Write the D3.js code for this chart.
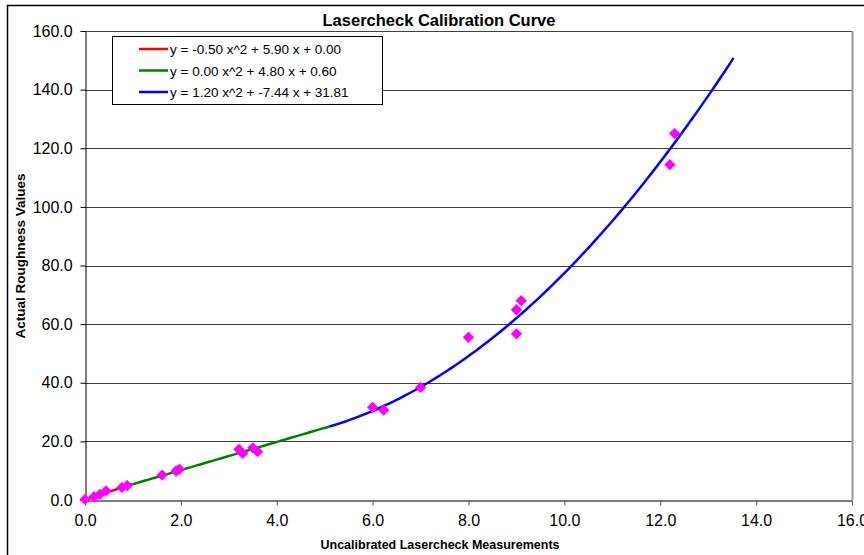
<!DOCTYPE html>
<html>
<head>
<meta charset="utf-8">
<script src="https://cdn.jsdelivr.net/npm/d3@7"></script>
<style>
  body { margin: 0; background: #fff; }
  text { font-family: "Liberation Sans", Arial, sans-serif; }
</style>
</head>
<body>
<script>
var width = 864, height = 555;
var margin = {top: 31, right: 12, bottom: 55, left: 85};

// measured points (x = uncalibrated, y = actual)
var measX = [0.0, 0.19, 0.31, 0.44, 0.77, 0.88, 1.61, 1.90, 1.97, 3.21, 3.29, 3.50, 3.60, 6.00, 6.23, 7.00, 8.00, 9.00, 9.00, 9.10, 12.20, 12.30];
var measY = [0.2, 1.1, 1.9, 3.1, 4.3, 4.9, 8.5, 9.9, 10.5, 17.3, 15.9, 17.8, 16.5, 31.6, 30.7, 38.4, 55.5, 56.7, 64.9, 68.0, 114.4, 125.0];

// fitted curves: coefficients [a, b, c] for y = a x^2 + b x + c and x ranges
var fitLabels = ["y = -0.50 x^2 + 5.90 x + 0.00", "y = 0.00 x^2 + 4.80 x + 0.60", "y = 1.20 x^2 + -7.44 x + 31.81"];
var fitCoefs = [[-0.50, 5.90, 0.00], [0.00, 4.80, 0.60], [1.20, -7.44, 31.81]];
var fitFrom = [0.0, 1.0, 5.1];
var fitTo = [1.0, 5.1, 13.53];
var fitColors = ["#ff0000", "#008000", "#0000ff"];

var xTicks = [0, 2, 4, 6, 8, 10, 12, 14, 16];
var yTicks = [0, 20, 40, 60, 80, 100, 120, 140, 160];

var svg = d3.select("body").append("svg")
    .attr("width", width)
    .attr("height", height);

// chart area border
svg.append("rect")
    .attr("x", 7.5).attr("y", 5.5)
    .attr("width", 900).attr("height", 600)
    .attr("fill", "none").attr("stroke", "#000").attr("stroke-width", 1.5);

var x = d3.scaleLinear().domain([0, 16]).range([margin.left, 852]);
var y = d3.scaleLinear().domain([0, 160]).range([500, margin.top]);

// gridlines
svg.append("g").selectAll("line")
    .data(yTicks.slice(1))
    .enter().append("line")
    .attr("x1", x(0)).attr("x2", x(16))
    .attr("y1", function(d) { return Math.round(y(d)) + 0.5; })
    .attr("y2", function(d) { return Math.round(y(d)) + 0.5; })
    .attr("stroke", "#404040").attr("stroke-width", 1);

// right border of plot area
svg.append("line")
    .attr("x1", x(16) + 0.5).attr("x2", x(16) + 0.5)
    .attr("y1", y(160)).attr("y2", y(0))
    .attr("stroke", "#999").attr("stroke-width", 2);

// axes
var xAxis = d3.axisBottom(x).tickValues(xTicks).tickFormat(d3.format(".1f")).tickSize(5).tickSizeOuter(0);
var yAxis = d3.axisLeft(y).tickValues(yTicks).tickFormat(d3.format(".1f")).tickSize(5).tickSizeOuter(0);

var gx = svg.append("g")
    .attr("transform", "translate(0," + (Math.round(y(0)) + 0.5) + ")")
    .call(xAxis);
gx.select(".domain").attr("stroke", "#555").attr("stroke-width", 1.5);
gx.selectAll(".tick line").attr("stroke", "#555");
gx.selectAll("text").attr("font-size", 16).attr("fill", "#000").attr("dy", "1.1em");

var gy = svg.append("g")
    .attr("transform", "translate(" + (Math.round(x(0)) + 0.5) + ",0)")
    .call(yAxis);
gy.select(".domain").attr("stroke", "#000");
gy.selectAll(".tick line").attr("stroke", "#000");
gy.selectAll("text").attr("font-size", 16).attr("fill", "#000").attr("dx", "-0.3em");
gx.attr("font-family", null);
gy.attr("font-family", null);

// fitted curves
var line = d3.line()
    .x(function(d) { return x(d[0]); })
    .y(function(d) { return y(d[1]); });

fitCoefs.forEach(function(c, i) {
  var pts = d3.range(fitFrom[i], fitTo[i] + 1e-9, (fitTo[i] - fitFrom[i]) / 80).map(function(t) {
    return [t, c[0] * t * t + c[1] * t + c[2]];
  });
  svg.append("path")
      .datum(pts)
      .attr("d", line)
      .attr("fill", "none")
      .attr("stroke", fitColors[i])
      .attr("stroke-width", 2.5);
});

// measured points as diamonds
var diamond = d3.symbol().type(d3.symbolSquare).size(64);
svg.append("g").selectAll("path")
    .data(measX)
    .enter().append("path")
    .attr("d", diamond)
    .attr("transform", function(d, i) { return "translate(" + x(d) + "," + y(measY[i]) + ") rotate(45)"; })
    .attr("fill", "#ff00ff");

// legend
var lg = svg.append("g");
lg.append("rect")
    .attr("x", 112.5).attr("y", 36.5)
    .attr("width", 270).attr("height", 68)
    .attr("fill", "#fff").attr("stroke", "#000");
fitLabels.forEach(function(t, i) {
  var ly = 49 + i * 21.5;
  lg.append("line")
      .attr("x1", 139).attr("x2", 168)
      .attr("y1", ly).attr("y2", ly)
      .attr("stroke", fitColors[i]).attr("stroke-width", 2.5);
  lg.append("text")
      .attr("x", 170).attr("y", ly + 5)
      .attr("font-size", 13.5)
      .text(t);
});

// titles
svg.append("text")
    .attr("x", 439).attr("y", 26)
    .attr("text-anchor", "middle")
    .attr("font-size", 16.5).attr("font-weight", "bold")
    .text("Lasercheck Calibration Curve");

svg.append("text")
    .attr("x", 440).attr("y", 549)
    .attr("text-anchor", "middle")
    .attr("font-size", 12.5).attr("font-weight", "bold")
    .text("Uncalibrated Lasercheck Measurements");

svg.append("text")
    .attr("transform", "translate(25,256) rotate(-90)")
    .attr("text-anchor", "middle")
    .attr("font-size", 13.5).attr("font-weight", "bold")
    .text("Actual Roughness Values");
</script>
</body>
</html>
